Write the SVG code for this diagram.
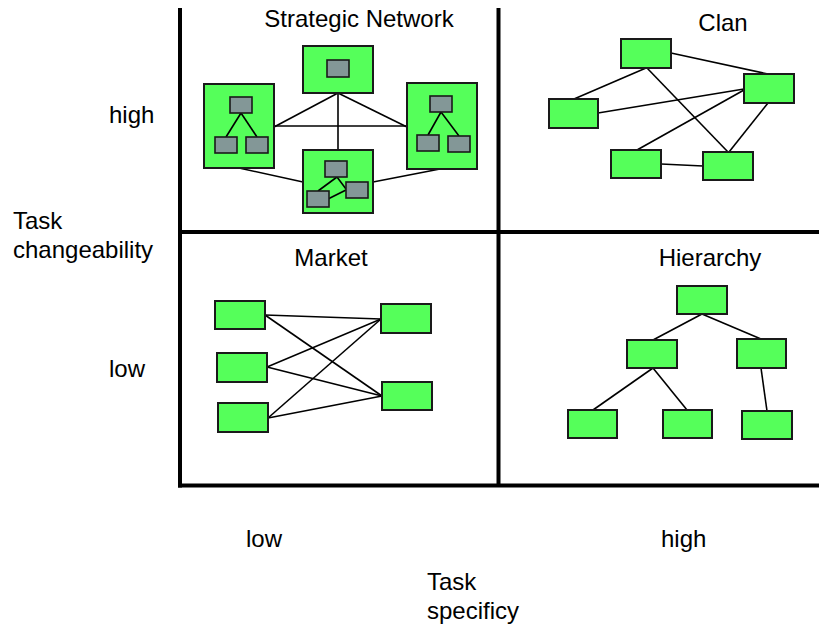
<svg xmlns="http://www.w3.org/2000/svg" width="819" height="625" viewBox="0 0 819 625">
  <style>
    .lbl { font-family: "Liberation Sans", Arial, sans-serif; font-size: 24px; fill: #000; }
    .box { fill: #55ff5a; stroke: #1a1a1a; stroke-width: 2; }
    .sub { fill: #839797; stroke: #1a1a1a; stroke-width: 1.6; }
    .axis { stroke: #000; stroke-width: 4; fill: none; }
    .link { stroke: #000; stroke-width: 1.6; fill: none; }
  </style>
  <rect width="819" height="625" fill="#fff"/>

  <!-- quadrant frame -->
  <g id="axes">
    <line class="axis" x1="180" y1="8" x2="180" y2="487.5"/>
    <line class="axis" x1="178" y1="485.5" x2="819" y2="485.5"/>
    <line class="axis" x1="498.5" y1="8" x2="498.5" y2="485.5"/>
    <line class="axis" x1="180" y1="232" x2="819" y2="232"/>
  </g>

  <!-- axis labels -->
  <g id="labels">
    <text class="lbl" x="109" y="123">high</text>
    <text class="lbl" x="109" y="377">low</text>
    <text class="lbl" x="13" y="229">Task</text>
    <text class="lbl" x="13" y="258">changeability</text>
    <text class="lbl" x="246" y="547">low</text>
    <text class="lbl" x="661" y="547">high</text>
    <text class="lbl" x="427" y="590">Task</text>
    <text class="lbl" x="427" y="619">specificy</text>
  </g>

  <!-- quadrant titles -->
  <g id="titles">
    <text class="lbl" x="359" y="27" text-anchor="middle">Strategic Network</text>
    <text class="lbl" x="723" y="31" text-anchor="middle">Clan</text>
    <text class="lbl" x="331" y="266" text-anchor="middle">Market</text>
    <text class="lbl" x="710" y="266" text-anchor="middle">Hierarchy</text>
  </g>

  <!-- connectors between nodes -->
  <g id="connectors">
    <!-- strategic network -->
    <line class="link" x1="338" y1="93" x2="274" y2="127"/>
    <line class="link" x1="338" y1="93" x2="407" y2="127"/>
    <line class="link" x1="338" y1="93" x2="338" y2="150"/>
    <line class="link" x1="274" y1="126" x2="407" y2="126"/>
    <line class="link" x1="239" y1="168" x2="303" y2="182"/>
    <line class="link" x1="440" y1="169" x2="373" y2="182"/>
    <!-- clan -->
    <line class="link" x1="671" y1="53" x2="768" y2="74"/>
    <line class="link" x1="646" y1="68" x2="574" y2="99"/>
    <line class="link" x1="647" y1="68" x2="728" y2="152"/>
    <line class="link" x1="598" y1="113" x2="744" y2="89"/>
    <line class="link" x1="637" y1="150" x2="744" y2="90"/>
    <line class="link" x1="768" y1="103" x2="729" y2="152"/>
    <line class="link" x1="661" y1="164" x2="703" y2="166"/>
    <!-- market -->
    <line class="link" x1="265" y1="315" x2="381" y2="319"/>
    <line class="link" x1="265" y1="315" x2="382" y2="396"/>
    <line class="link" x1="267" y1="367" x2="381" y2="319"/>
    <line class="link" x1="267" y1="367" x2="382" y2="396"/>
    <line class="link" x1="268" y1="418" x2="381" y2="319"/>
    <line class="link" x1="268" y1="418" x2="382" y2="396"/>
    <!-- hierarchy -->
    <line class="link" x1="702" y1="314" x2="653" y2="340"/>
    <line class="link" x1="702" y1="314" x2="761" y2="339"/>
    <line class="link" x1="653" y1="368" x2="593" y2="410"/>
    <line class="link" x1="653" y1="368" x2="687" y2="410"/>
    <line class="link" x1="761" y1="368" x2="767" y2="411"/>
  </g>

  <!-- strategic network nodes, each holding a small inner structure -->
  <g id="sn-top">
    <rect class="box" x="303" y="46" width="70" height="47"/>
    <rect class="sub" x="327" y="60" width="22" height="17"/>
  </g>
  <g id="sn-left">
    <rect class="box" x="204" y="84" width="70" height="84"/>
    <line class="link" x1="241" y1="113" x2="226" y2="137"/>
    <line class="link" x1="241" y1="113" x2="257" y2="137"/>
    <rect class="sub" x="230" y="97" width="22" height="16"/>
    <rect class="sub" x="215" y="137" width="22" height="16"/>
    <rect class="sub" x="246" y="137" width="22" height="16"/>
  </g>
  <g id="sn-right">
    <rect class="box" x="407" y="83" width="70" height="86"/>
    <line class="link" x1="441" y1="112" x2="428" y2="135"/>
    <line class="link" x1="441" y1="112" x2="459" y2="136"/>
    <rect class="sub" x="430" y="96" width="22" height="16"/>
    <rect class="sub" x="417" y="135" width="22" height="16"/>
    <rect class="sub" x="448" y="136" width="22" height="16"/>
  </g>
  <g id="sn-bottom">
    <rect class="box" x="303" y="150" width="70" height="63"/>
    <line class="link" x1="337" y1="177" x2="318" y2="191"/>
    <line class="link" x1="337" y1="177" x2="346" y2="189"/>
    <line class="link" x1="328" y1="199" x2="346" y2="190"/>
    <rect class="sub" x="325" y="161" width="22" height="16"/>
    <rect class="sub" x="346" y="182" width="22" height="16"/>
    <rect class="sub" x="307" y="191" width="22" height="16"/>
  </g>

  <!-- clan nodes -->
  <g id="clan-a"><rect class="box" x="621" y="39" width="50" height="29"/></g>
  <g id="clan-b"><rect class="box" x="744" y="74" width="50" height="29"/></g>
  <g id="clan-c"><rect class="box" x="549" y="99" width="49" height="29"/></g>
  <g id="clan-d"><rect class="box" x="611" y="150" width="50" height="28"/></g>
  <g id="clan-e"><rect class="box" x="703" y="152" width="50" height="28"/></g>

  <!-- market nodes -->
  <g id="market-l1"><rect class="box" x="215" y="301" width="50" height="28"/></g>
  <g id="market-l2"><rect class="box" x="217" y="353" width="50" height="29"/></g>
  <g id="market-l3"><rect class="box" x="218" y="403" width="50" height="29"/></g>
  <g id="market-r1"><rect class="box" x="381" y="304" width="50" height="29"/></g>
  <g id="market-r2"><rect class="box" x="382" y="382" width="50" height="28"/></g>

  <!-- hierarchy nodes -->
  <g id="hier-top"><rect class="box" x="677" y="286" width="50" height="28"/></g>
  <g id="hier-m1"><rect class="box" x="627" y="340" width="50" height="28"/></g>
  <g id="hier-m2"><rect class="box" x="737" y="339" width="49" height="29"/></g>
  <g id="hier-b1"><rect class="box" x="568" y="410" width="49" height="28"/></g>
  <g id="hier-b2"><rect class="box" x="663" y="410" width="49" height="28"/></g>
  <g id="hier-b3"><rect class="box" x="742" y="411" width="50" height="28"/></g>
</svg>
